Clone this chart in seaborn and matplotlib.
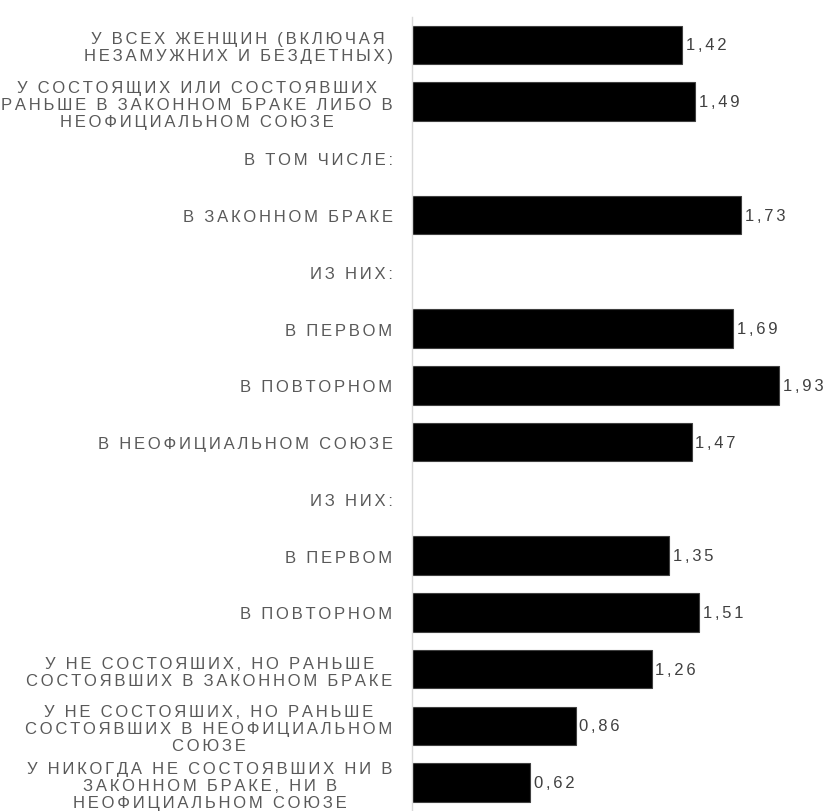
import pandas as pd
import matplotlib
matplotlib.use('Agg')
import matplotlib.pyplot as plt
import seaborn as sns

# Row labels (top to bottom); header rows have no bar
labels = [
    'У ВСЕХ ЖЕНЩИН (ВКЛЮЧАЯ\nНЕЗАМУЖНИХ И БЕЗДЕТНЫХ)',
    'У СОСТОЯЩИХ ИЛИ СОСТОЯВШИХ\nРАНЬШЕ В ЗАКОННОМ БРАКЕ ЛИБО В\nНЕОФИЦИАЛЬНОМ СОЮЗЕ',
    'В ТОМ ЧИСЛЕ:',
    'В ЗАКОННОМ БРАКЕ',
    'ИЗ НИХ:',
    'В ПЕРВОМ',
    'В ПОВТОРНОМ',
    'В НЕОФИЦИАЛЬНОМ СОЮЗЕ',
    'ИЗ НИХ:',
    'В ПЕРВОМ',
    'В ПОВТОРНОМ',
    'У НЕ СОСТОЯШИХ, НО РАНЬШЕ\nСОСТОЯВШИХ В ЗАКОННОМ БРАКЕ',
    'У НЕ СОСТОЯШИХ, НО РАНЬШЕ\nСОСТОЯВШИХ В НЕОФИЦИАЛЬНОМ\nСОЮЗЕ',
    'У НИКОГДА НЕ СОСТОЯВШИХ НИ В\nЗАКОННОМ БРАКЕ, НИ В\nНЕОФИЦИАЛЬНОМ СОЮЗЕ',
]
values = [1.42, 1.49, None, 1.73, None, 1.69, 1.93, 1.47, None, 1.35, 1.51, 1.26, 0.86, 0.62]


def track(s):
    # letter spacing like the original: six-per-em space between letters
    return '\n'.join('\u2006'.join(line) for line in s.split('\n'))


# labels repeat, so use row ids as categories
row_ids = ['r%d' % i for i in range(len(labels))]
df = pd.DataFrame({'row': row_ids, 'value': values}).dropna()

sns.set_style('white')
plt.rcParams['font.family'] = ['Liberation Sans', 'DejaVu Sans']

fig = plt.figure(figsize=(8.25, 8.12), dpi=100)
ax = fig.add_axes([412 / 825, 0, (825 - 412 - 10) / 825, 1 - 17.5 / 812])

sns.barplot(data=df, x='value', y='row', order=row_ids, orient='h',
            color='black', edgecolor='#404040', linewidth=0.8, width=0.68,
            saturation=1, ax=ax)

ax.set_xlim(0, 403 / 190.2)
ax.set_xlabel('')
ax.set_ylabel('')
ax.set_xticks([])
ax.set_yticks(range(len(labels)))
ax.set_yticklabels([track(l) for l in labels], fontsize=12, color='#595959',
                   multialignment='center', linespacing=1.17)
ax.tick_params(axis='y', length=0, pad=14)

for s in ['top', 'right', 'bottom']:
    ax.spines[s].set_visible(False)
ax.spines['left'].set_color('#d9d9d9')
ax.spines['left'].set_linewidth(1)

# value labels
for i, v in enumerate(values):
    if v is not None:
        ax.text(v + 0.02, i, track(('%.2f' % v).replace('.', ',')), va='center', ha='left',
                fontsize=12, color='#404040')

fig.savefig('out.png', dpi=100)
